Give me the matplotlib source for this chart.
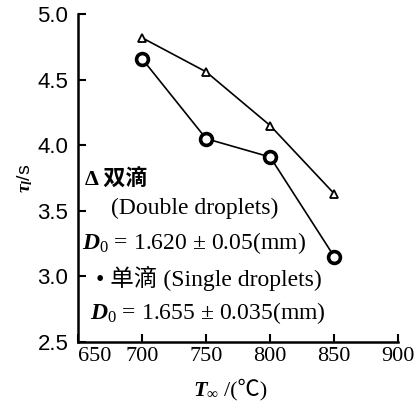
import numpy as np
import matplotlib.pyplot as plt

temps = [700, 750, 800, 850]
double_t = [4.82, 4.56, 4.15, 3.63]
single_t = [4.66, 4.05, 3.91, 3.15]
xticks = [650, 700, 750, 800, 850, 900]
yticks = [2.5, 3.0, 3.5, 4.0, 4.5, 5.0]

serif = ['Liberation Serif', 'Noto Sans CJK SC']
plt.rcParams['mathtext.fontset'] = 'custom'
plt.rcParams['mathtext.rm'] = 'Liberation Serif'
plt.rcParams['mathtext.it'] = 'Liberation Serif:italic:bold'
plt.rcParams['mathtext.bf'] = 'Liberation Serif:bold'

fig = plt.figure(figsize=(4.16, 4.05), dpi=100)
ax = fig.add_axes([0.1875, 0.156, 0.77, 0.809])

ax.plot(temps, double_t, color='k', lw=1.2, marker='^', ms=6,
        mfc='white', mec='k', mew=1.3)
ax.plot(temps, single_t, color='k', lw=1.2, marker='o', ms=8.5,
        mfc='white', mec='k', mew=2.6)

ax.set_xlim(650, 900)
ax.set_ylim(2.5, 5.0)
ax.set_xticks(xticks)
ax.set_yticks(yticks)
ax.set_xticklabels([str(v) for v in xticks], fontfamily='Liberation Serif',
                   fontsize=16)
ax.set_yticklabels(['%.1f' % v for v in yticks], fontfamily='Liberation Sans',
                   fontsize=16)
ax.get_xticklabels()[0].set_ha('left')
ax.tick_params(direction='in', length=6, width=1.5)
ax.tick_params(axis='x', pad=4)
ax.tick_params(axis='y', pad=7)
ax.spines['top'].set_visible(False)
ax.spines['right'].set_visible(False)
ax.spines['left'].set_linewidth(1.8)
ax.spines['bottom'].set_linewidth(1.8)

# x label in two pieces so the degree sign falls back to the CJK font
ax.text(0.36, -0.147, r'$T_{\infty}$', transform=ax.transAxes, family=serif,
        fontsize=16, va='center', ha='left')
ax.text(0.455, -0.147, '/(℃)', transform=ax.transAxes, family=serif,
        fontsize=16, va='center', ha='left')
ax.set_ylabel(r'$\tau_l$/s', fontfamily='Liberation Sans', fontsize=14,
              labelpad=2)

ax.text(655.5, 3.74, 'Δ 双滴', family=serif, fontsize=16, fontweight='bold',
        va='center')
ax.text(676, 3.52, '(Double droplets)', family=serif, fontsize=17,
        va='center')
ax.text(653, 3.25, r'$D_0$ = 1.620 ± 0.05(mm)', family=serif, fontsize=17,
        va='center')
ax.text(664, 2.98, '• 单滴 (Single droplets)', family=serif, fontsize=17,
        va='center')
ax.text(659, 2.72, r'$D_0$ = 1.655 ± 0.035(mm)', family=serif, fontsize=17,
        va='center')

fig.savefig('out.png', dpi=100)
